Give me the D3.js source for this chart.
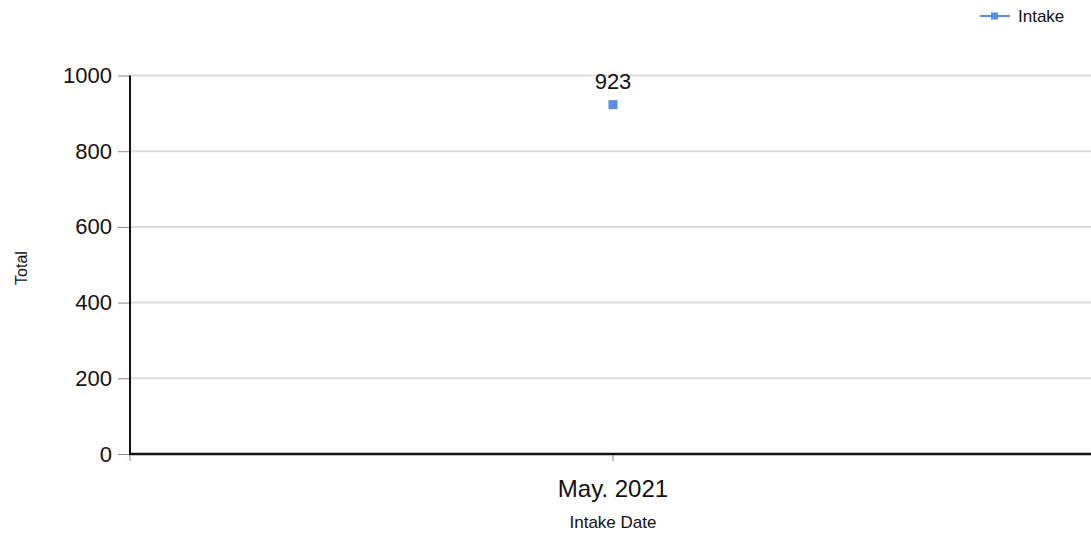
<!DOCTYPE html>
<html>
<head>
<meta charset="utf-8">
<script src="https://cdn.jsdelivr.net/npm/d3@7/dist/d3.min.js"></script>
<style>
  body { margin: 0; background: #fff; }
  svg { font-family: "Liberation Sans", Arial, sans-serif; }
</style>
</head>
<body>
<svg id="chart" width="1091" height="540"></svg>
<script>
const categories = ["May. 2021"];
const intake = [923];
const yTicks = [0, 200, 400, 600, 800, 1000];
const seriesName = "Intake";
const color = "#5b8ee8";

const svg = d3.select("#chart");
const plotLeft = 130, plotRight = 1096, plotTop = 75.5, plotBottom = 454;

const x = d3.scaleBand().domain(categories).range([plotLeft, plotRight]);
const y = d3.scaleLinear().domain([0, 1000]).range([plotBottom, plotTop]);

// grid
svg.append("g")
  .selectAll("line")
  .data(yTicks.filter(d => d > 0))
  .enter().append("line")
  .attr("x1", plotLeft).attr("x2", 1091)
  .attr("y1", d => y(d)).attr("y2", d => y(d))
  .attr("stroke", "#dcdcdc").attr("stroke-width", 2);

// y axis
const yAxis = svg.append("g")
  .attr("transform", `translate(${plotLeft},0)`)
  .call(d3.axisLeft(y).tickValues(yTicks).tickFormat(d3.format("d")).tickSize(12).tickPadding(6));
yAxis.select(".domain").remove();
yAxis.selectAll(".tick line").attr("stroke", "#888").attr("stroke-width", 1);
yAxis.selectAll(".tick text").attr("font-size", 22).attr("fill", "#111")
  .attr("font-family", "Liberation Sans, Arial, sans-serif");

svg.append("line")
  .attr("x1", plotLeft).attr("x2", plotLeft)
  .attr("y1", plotTop).attr("y2", plotBottom)
  .attr("stroke", "#111").attr("stroke-width", 2);

// x axis
const xAxis = svg.append("g")
  .attr("transform", `translate(0,${plotBottom})`)
  .call(d3.axisBottom(x).tickSize(0).tickPadding(26));
xAxis.select(".domain").remove();
xAxis.selectAll(".tick text").attr("font-size", 24).attr("fill", "#111")
  .attr("font-family", "Liberation Sans, Arial, sans-serif");

// category boundary and centre ticks
const xTickPos = [plotLeft].concat(categories.map(c => x(c) + x.bandwidth() / 2));
svg.append("g").selectAll("line")
  .data(xTickPos)
  .enter().append("line")
  .attr("x1", d => d).attr("x2", d => d)
  .attr("y1", plotBottom).attr("y2", plotBottom + 7)
  .attr("stroke", "#888").attr("stroke-width", 1);

svg.append("line")
  .attr("x1", plotLeft - 1).attr("x2", 1091)
  .attr("y1", plotBottom).attr("y2", plotBottom)
  .attr("stroke", "#111").attr("stroke-width", 2.5);

// points
const pts = categories.map((c, i) => ({ c: c, v: intake[i] }));
svg.append("g").selectAll("rect")
  .data(pts)
  .enter().append("rect")
  .attr("x", d => x(d.c) + x.bandwidth() / 2 - 4.5)
  .attr("y", d => y(d.v) - 4.5)
  .attr("width", 9).attr("height", 9)
  .attr("fill", color);

svg.append("g").selectAll("text")
  .data(pts)
  .enter().append("text")
  .attr("x", d => x(d.c) + x.bandwidth() / 2)
  .attr("y", d => y(d.v) - 16)
  .attr("text-anchor", "middle")
  .attr("font-size", 22).attr("fill", "#111")
  .text(d => d.v);

// axis titles
svg.append("text")
  .attr("transform", "translate(27,268) rotate(-90)")
  .attr("text-anchor", "middle")
  .attr("font-size", 16).attr("fill", "#111")
  .text("Total");

svg.append("text")
  .attr("x", x(categories[0]) + x.bandwidth() / 2).attr("y", 528)
  .attr("text-anchor", "middle")
  .attr("font-size", 17).attr("fill", "#111")
  .text("Intake Date");

// legend
const lg = svg.append("g").attr("transform", "translate(980,16)");
lg.append("line").attr("x1", 0).attr("x2", 30).attr("y1", 0).attr("y2", 0)
  .attr("stroke", color).attr("stroke-width", 2);
lg.append("rect").attr("x", 11).attr("y", -3.5).attr("width", 7).attr("height", 7)
  .attr("fill", color);
lg.append("text").attr("x", 38).attr("y", 6)
  .attr("font-size", 17).attr("fill", "#111")
  .text(seriesName);
</script>
</body>
</html>
